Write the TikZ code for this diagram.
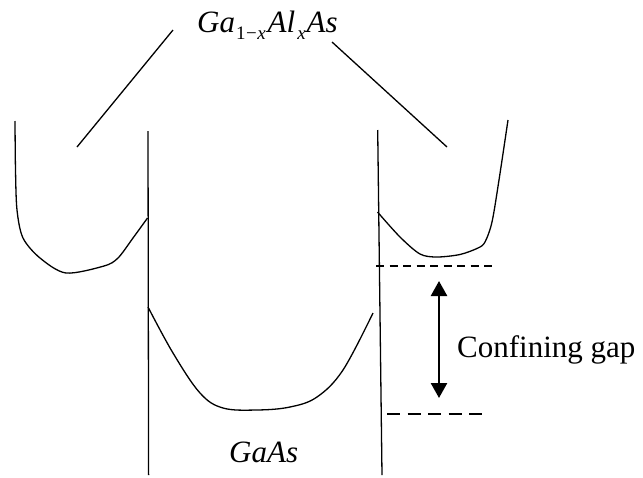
\documentclass[tikz,border=0pt]{standalone}
\usepackage{fontspec}
\setmainfont{Liberation Serif}
\usetikzlibrary{arrows.meta}
\newcommand{\mysub}[1]{\raisebox{-7pt}{\fontsize{19}{21}\selectfont #1}}
\begin{document}
\begin{tikzpicture}[x=1pt,y=-1pt,
  band/.style={line width=1.3pt, line join=round},
  wall/.style={line width=1.3pt},
  lbl/.style={inner sep=0pt, anchor=base west, font=\fontsize{31}{36}\selectfont}]
\useasboundingbox (0,0) rectangle (643,477);
% well walls
\draw[wall] (148,131) -- (148.6,475);
\draw[wall] (377.7,130) -- (382,475);
% diagonal pointer lines
\draw[wall] (77,147) -- (173,30);
\draw[wall] (332,42) -- (447,147);
% left barrier band
\draw[band] plot[smooth, tension=0.5] coordinates {(15,121) (15.5,170) (17,210) (23,238) (40,258) (66,273) (104,266) (118,258) (133,238) (147.5,218)};
% well band
\draw[band] plot[smooth, tension=0.6] coordinates {(148,307) (173,353) (200,393) (223,408) (257,410) (290,407) (317,397) (343,370) (373,313)};
% right barrier band
\draw[band] plot[smooth, tension=0.5] coordinates {(377.5,212) (400,237) (420,254) (437,257) (460,254.5) (478,248) (485,242) (492,222) (499,180) (508,120)};
% dashed levels
\draw[line width=1.1pt, dash pattern=on 8pt off 5.5pt] (376,266) -- (495,266);
\draw[line width=1.1pt, dash pattern=on 13pt off 7.5pt] (387,414) -- (488,414);
% confining gap arrow
\coordinate (gtop) at (439,281);
\coordinate (gbot) at (439,398);
\draw[line width=2.5pt, {Triangle[width=16pt,length=15pt]}-{Triangle[width=16pt,length=15pt]}] (gtop) -- (gbot);
\node[lbl] (gap) at (457,357) {Confining gap};
% labels
\node[lbl] (title) at (197,32) {\itshape Ga\kern1pt\mysub{\upshape 1\kern0.5pt−\kern0.5pt\itshape x}\kern2pt Al\kern2pt\mysub{x}\kern1pt As};
\node[lbl] (gaas) at (229,462) {\itshape GaAs};
\end{tikzpicture}
\end{document}
